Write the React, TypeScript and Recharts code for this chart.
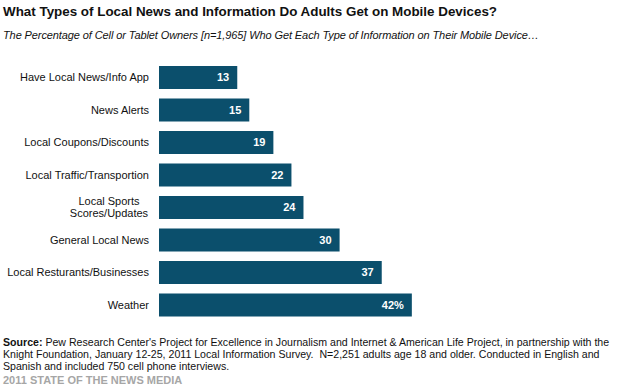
import React from "react";
import { BarChart, Bar, XAxis, YAxis, LabelList } from "recharts";

const categories = [
  "Have Local News/Info App",
  "News Alerts",
  "Local Coupons/Discounts",
  "Local Traffic/Transportion",
  "Local Sports\nScores/Updates",
  "General Local News",
  "Local Resturants/Businesses",
  "Weather",
];

const values = [13, 15, 19, 22, 24, 30, 37, 42];

const valueLabels = ["13", "15", "19", "22", "24", "30", "37", "42%"];

const data = categories.map((name, i) => ({
  name,
  value: values[i],
  label: valueLabels[i],
}));

const FONT = "'Liberation Sans', Arial, sans-serif";
const BAR = "#0b4f6c";

function CategoryTick(props: any) {
  const { x, y, payload } = props;
  const lines = String(payload.value).split("\n");
  if (lines.length === 1) {
    return (
      <text x={x} y={y} dy="0.355em" textAnchor="end" fontSize={11} fill="#111" fontFamily={FONT}>
        {lines[0]}
      </text>
    );
  }
  const lh = 12;
  const start = -((lines.length - 1) * lh) / 2;
  return (
    <text x={x - 40} y={y} textAnchor="middle" fontSize={11} fill="#111" fontFamily={FONT}>
      {lines.map((l, i) => (
        <tspan key={i} x={x - 40} dy={i === 0 ? start + 4 : lh}>
          {l}
        </tspan>
      ))}
    </text>
  );
}

export default function App() {
  return (
    <div
      style={{
        position: "fixed",
        left: 0,
        top: 0,
        width: 619,
        height: 388,
        background: "#fff",
        fontFamily: FONT,
        overflow: "hidden",
      }}
    >
      <div
        style={{
          position: "absolute",
          left: 3,
          top: 4,
          fontSize: 13.4,
          fontWeight: "bold",
          color: "#111",
          whiteSpace: "nowrap",
        }}
      >
        What Types of Local News and Information Do Adults Get on Mobile Devices?
      </div>
      <div
        style={{
          position: "absolute",
          left: 3,
          top: 29,
          fontSize: 11,
          fontStyle: "italic",
          color: "#111",
          letterSpacing: -0.1,
          whiteSpace: "nowrap",
        }}
      >
        The Percentage of Cell or Tablet Owners [n=1,965] Who Get Each Type of Information on Their Mobile Device…
      </div>
      <div style={{ position: "absolute", left: 0, top: 0 }}>
        <BarChart
          width={619}
          height={388}
          layout="vertical"
          data={data}
          margin={{ top: 61, right: 159, bottom: 67, left: 0 }}
        >
          <XAxis type="number" domain={[0, 50]} hide />
          <YAxis
            type="category"
            dataKey="name"
            width={159}
            axisLine={false}
            tickLine={false}
            tickMargin={4}
            interval={0}
            tick={<CategoryTick />}
          />
          <Bar dataKey="value" fill={BAR} barSize={23} isAnimationActive={false}>
            <LabelList
              dataKey="label"
              position="insideRight"
              offset={8}
              fill="#fff"
              fontSize={11}
              fontWeight="bold"
              fontFamily={FONT}
            />
          </Bar>
        </BarChart>
      </div>
      <div
        style={{
          position: "absolute",
          left: 3,
          top: 336,
          fontSize: 10.6,
          lineHeight: "12px",
          color: "#111",
          whiteSpace: "nowrap",
        }}
      >
        <b>Source:</b> Pew Research Center's Project for Excellence in Journalism and Internet &amp; American Life Project, in partnership with the
        <br />
        Knight Foundation, January 12-25, 2011 Local Information Survey.&nbsp; N=2,251 adults age 18 and older. Conducted in English and
        <br />
        Spanish and included 750 cell phone interviews.
      </div>
      <div
        style={{
          position: "absolute",
          left: 3,
          top: 374,
          fontSize: 11,
          fontWeight: "bold",
          color: "#a6a6a6",
          whiteSpace: "nowrap",
        }}
      >
        2011 STATE OF THE NEWS MEDIA
      </div>
    </div>
  );
}
